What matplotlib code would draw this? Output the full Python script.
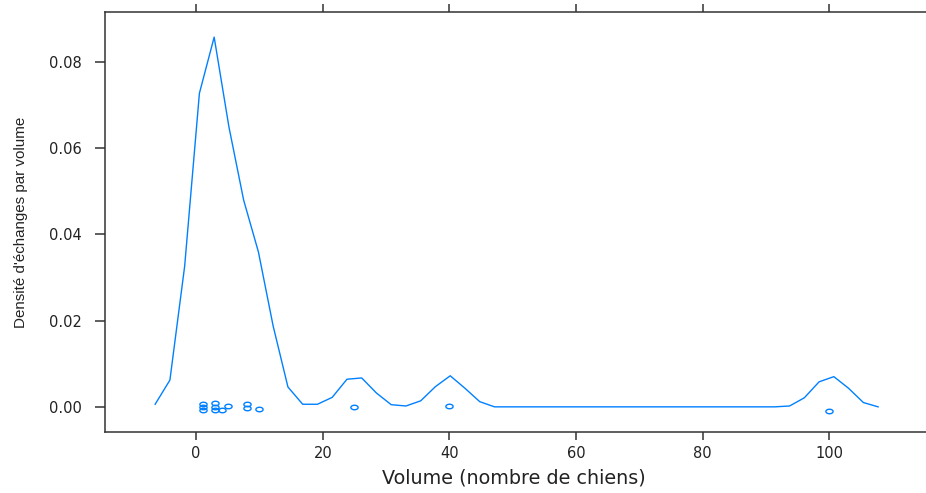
import numpy as np
import matplotlib
matplotlib.use('Agg')
import matplotlib.pyplot as plt
from matplotlib.path import Path

# density curve (50 evaluation points)
x_start, x_end = -6.48, 107.7
dens = [0.0006, 0.0062, 0.0326, 0.0727, 0.0857, 0.0649, 0.0479, 0.0359, 0.0187, 0.0046,
        0.0006, 0.0006, 0.0022, 0.0064, 0.0067, 0.0032, 0.0005, 0.0002, 0.0014, 0.0047,
        0.0072, 0.0043, 0.0012, 0.0000, 0.0000, 0.0000, 0.0000, 0.0000, 0.0000, 0.0000,
        0.0000, 0.0000, 0.0000, 0.0000, 0.0000, 0.0000, 0.0000, 0.0000, 0.0000, 0.0000,
        0.0000, 0.0000, 0.0000, 0.0002, 0.0021, 0.0058, 0.0070, 0.0043, 0.0010, 0.0000]

# raw observations (jittered around 0)
obs_x = [1, 1, 1, 3, 3, 3, 4, 5, 8, 8, 10, 25, 40, 100]
obs_y = [0.0007, -0.0001, -0.0008, 0.0009, 0.0000, -0.0008, -0.0008, 0.0002,
         0.0007, -0.0003, -0.0005, -0.0001, 0.0003, -0.0009]

xticks = [0, 20, 40, 60, 80, 100]
yticks = [0.00, 0.02, 0.04, 0.06, 0.08]

blue = '#0080ff'
frame = '#333333'

W, H = 926, 493
fig = plt.figure(figsize=(W / 100, H / 100), dpi=100)
left, right, top, bottom = 105, 927.5, 11.7, 432.3
ax = fig.add_axes([left / W, 1 - bottom / H, (right - left) / W, (bottom - top) / H])

gx = np.linspace(x_start, x_end, len(dens))
ax.plot(gx, dens, color=blue, lw=1.0)

# open, slightly flattened circles like the stretched original
t = np.linspace(0, 2 * np.pi, 40)
ell = Path(np.column_stack([1.6 * np.cos(t), np.sin(t)]))
ax.plot(obs_x, obs_y, ls='none', marker=ell, ms=5.2, mfc='none', mec=blue, mew=1.0)

ax.set_xlim(-14.4, 115.5)
ax.set_ylim(-0.0059, 0.0916)
ax.set_xticks(xticks)
ax.set_yticks(yticks)
ax.set_yticklabels(['%.2f' % v for v in yticks])

for s in ax.spines.values():
    s.set_color(frame)
    s.set_linewidth(1.1)
ax.spines['right'].set_visible(False)

ax.tick_params(axis='x', which='both', top=True, labeltop=False, direction='out',
               length=5.8, width=1.1, color=frame, labelsize=10.5, labelcolor='#222222', pad=4)
ax.tick_params(axis='y', which='both', right=False, direction='out',
               length=7.5, width=1.1, color=frame, labelsize=10.5, labelcolor='#222222', pad=9)
for lab in ax.get_xticklabels() + ax.get_yticklabels():
    lab.set_family('DejaVu Sans')

ax.set_xlabel('Volume (nombre de chiens)', family='DejaVu Sans', fontsize=13.8, color='#222222')
ax.xaxis.set_label_coords(0.497, -0.108)
ax.xaxis.label.set_verticalalignment('center')
ax.set_ylabel("Densité d'échanges par volume", family='Liberation Sans', fontsize=10.9, color='#222222')
ax.yaxis.set_label_coords(-0.1027, 0.5)
ax.yaxis.label.set_verticalalignment('center')

fig.savefig('out.png', dpi=100)
